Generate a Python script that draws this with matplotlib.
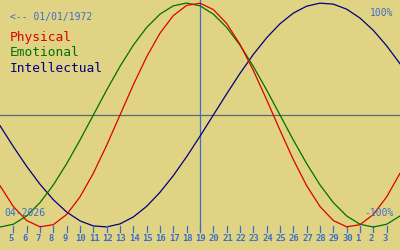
import matplotlib
matplotlib.use("Agg")
import matplotlib.pyplot as plt
import matplotlib.transforms as mtransforms

# day numbers shown along the bottom (04-2026 into May)
days = [4, 5, 6, 7, 8, 9, 10, 11, 12, 13, 14, 15, 16, 17, 18, 19, 20,
        21, 22, 23, 24, 25, 26, 27, 28, 29, 30, 1, 2, 3, 4]

# biorhythm values in percent, one per day
physical = [-63.1, -81.7, -94.2, -99.8, -97.9, -88.8, -73.1, -52.0, -27.0, 0.0,
            27.0, 52.0, 73.1, 88.8, 97.9, 99.8, 94.2, 81.7, 63.1, 39.8,
            13.6, -13.6, -39.8, -63.1, -81.7, -94.2, -99.8, -97.9, -88.8, -73.1,
            -52.0]
emotional = [-100.0, -97.5, -90.1, -78.2, -62.4, -43.4, -22.3, 0.0, 22.3, 43.4,
             62.4, 78.2, 90.1, 97.5, 100.0, 97.5, 90.1, 78.2, 62.4, 43.4,
             22.3, 0.0, -22.3, -43.4, -62.4, -78.2, -90.1, -97.5, -100.0, -97.5,
             -90.1]
intellectual = [-9.5, -28.2, -45.8, -61.8, -75.6, -86.6, -94.5, -99.0, -99.9, -97.2,
                -91.0, -81.5, -69.0, -54.1, -37.2, -18.9, 0.0, 18.9, 37.2, 54.1,
                69.0, 81.5, 91.0, 97.2, 99.9, 99.0, 94.5, 86.6, 75.6, 61.8,
                45.8]

birth = "01/01/1972"
month = "04-2026"
today_idx = 15

bg = "#e0d384"
blue = "#3c6fc4"
mono = "DejaVu Sans Mono"

fig = plt.figure(figsize=(4, 2.5), dpi=100, facecolor=bg)
ax = fig.add_axes([0, 0, 1, 1])
ax.set_facecolor(bg)
ax.set_xlim(0, len(days) - 1)
ax.set_ylim(-120.5, 102.7)
ax.axis("off")

x = list(range(len(days)))
ax.axhline(0, color="#5a6a78", lw=0.9, zorder=1)
ax.axvline(today_idx, ymin=0.08, ymax=1, color=blue, lw=0.9, zorder=1)

ax.plot(x, intellectual, color="#000080", lw=0.9, zorder=2)
ax.plot(x, emotional, color="#007000", lw=0.9, zorder=3)
ax.plot(x, physical, color="#dd0000", lw=0.9, zorder=4)

# day ticks and numbers
trans = ax.get_xaxis_transform()
lab_trans = trans + mtransforms.ScaledTranslation(-4.5 / 100, 0, fig.dpi_scale_trans)
for i in x[1:-1]:
    ax.plot([i, i], [0.074, 0.098], color=blue, lw=0.9, transform=trans)
    ax.text(i, 0.046, str(days[i]), transform=lab_trans, ha="left", va="center",
            fontsize=6.4, color=blue, family=mono, weight="bold")

fig.text(10 / 400, 1 - 16.7 / 250, "<-- " + birth, ha="left", va="center",
         fontsize=7, color=blue, family=mono)
fig.text(393 / 400, 1 - 12.7 / 250, "100%", ha="right", va="center",
         fontsize=7, color=blue, family=mono)
fig.text(4 / 400, 1 - 213 / 250, month, ha="left", va="center",
         fontsize=7, color=blue, family=mono)
fig.text(394 / 400, 1 - 213 / 250, "-100%", ha="right", va="center",
         fontsize=7, color=blue, family=mono)

fig.text(10 / 400, 1 - 38 / 250, "Physical", ha="left", va="center",
         fontsize=9.3, color="#dd0000", family=mono)
fig.text(10 / 400, 1 - 53 / 250, "Emotional", ha="left", va="center",
         fontsize=9.3, color="#007000", family=mono)
fig.text(10 / 400, 1 - 68 / 250, "Intellectual", ha="left", va="center",
         fontsize=9.3, color="#000080", family=mono)

fig.savefig("out.png", dpi=100, facecolor=bg)
